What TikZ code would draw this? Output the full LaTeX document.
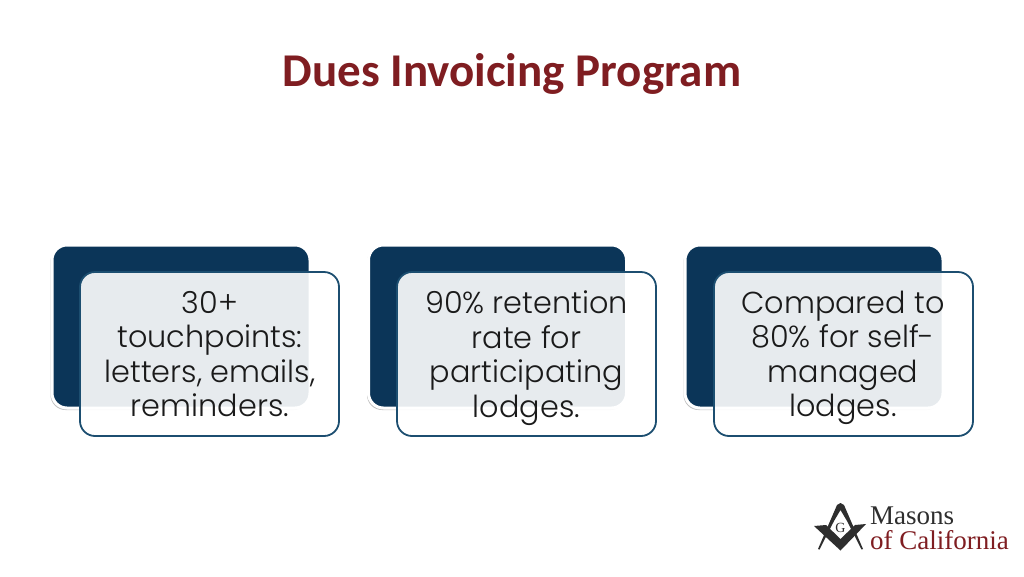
\documentclass[tikz,border=0pt]{standalone}
\usepackage{fontspec}
\setmainfont{Carlito}
\newfontfamily\bodyf{Poppins Light}
\newfontfamily\logof{Liberation Serif}
\usetikzlibrary{shadows}
\definecolor{navy}{HTML}{0B3558}
\definecolor{edge}{HTML}{1C4E70}
\definecolor{maroon}{HTML}{7F1D21}
\definecolor{ink}{HTML}{1A1A1A}
\definecolor{logogrey}{HTML}{2E2E2E}
\tikzset{
 x=1pt,y=-1pt,
 backcard/.style={draw=white,line width=3pt,fill=navy,rounded corners=15pt,
   drop shadow={shadow xshift=-1.5pt,shadow yshift=-2pt,fill=black,opacity=.25}},
 frontcard/.style={draw=edge,line width=1.8pt,fill=white,fill opacity=.9,draw opacity=1,text opacity=1,rounded corners=15pt},
 cardtext/.style={font=\bodyf\fontsize{30.3}{34.5}\selectfont,text=ink,align=center,anchor=north},
 titletext/.style={font=\fontsize{47}{50}\selectfont\bfseries,text=maroon},
 logotext/.style={font=\logof\fontsize{27}{27}\selectfont,anchor=base west,inner sep=0pt},
 logoshape/.style={fill=logogrey,draw=none}
}
\begin{document}
\begin{tikzpicture}
\useasboundingbox (0,0) rectangle (1024,576);
\fill[white] (0,0) rectangle (1024,576);
\node[titletext] (title) at (512,74) {Dues Invoicing Program};
% card 1
\path[backcard] (52,245) rectangle (310,408);
\path[frontcard] (80,272) rectangle (339,436);
\node[cardtext] (t1) at (210,287.5) {30+\\touchpoints:\\letters, emails,\\reminders.};
% card 2
\path[backcard] (368.5,245) rectangle (626.5,408);
\path[frontcard] (397,272) rectangle (656,436);
\node[cardtext] (t2) at (526.5,287.5) {90\% retention\\rate for\\participating\\lodges.};
% card 3
\path[backcard] (685,245) rectangle (943,408);
\path[frontcard] (714,272) rectangle (973,436);
\node[cardtext] (t3) at (843,287.5) {Compared to\\80\% for self-\\managed\\lodges.};
% logo
\fill[logoshape] (840.5,503) -- (844,505) -- (863,549) -- (861.5,549.5) -- (847,521) -- (840.5,510) -- (834,521) -- (819.5,549.5) -- (818,549) -- (837,505) -- cycle;
\fill[logoshape] (814,526) -- (826,525) -- (840.5,539) -- (855,525) -- (866,524) -- (840.5,550.5) -- cycle;
\node[font=\logof\fontsize{14}{14}\selectfont,text=logogrey,inner sep=0pt] (g) at (840.5,528) {G};
\node[logotext,text=logogrey] (m) at (870,524) {Masons};
\node[logotext,text=maroon] (c) at (870,549) {of California};
\end{tikzpicture}
\end{document}
